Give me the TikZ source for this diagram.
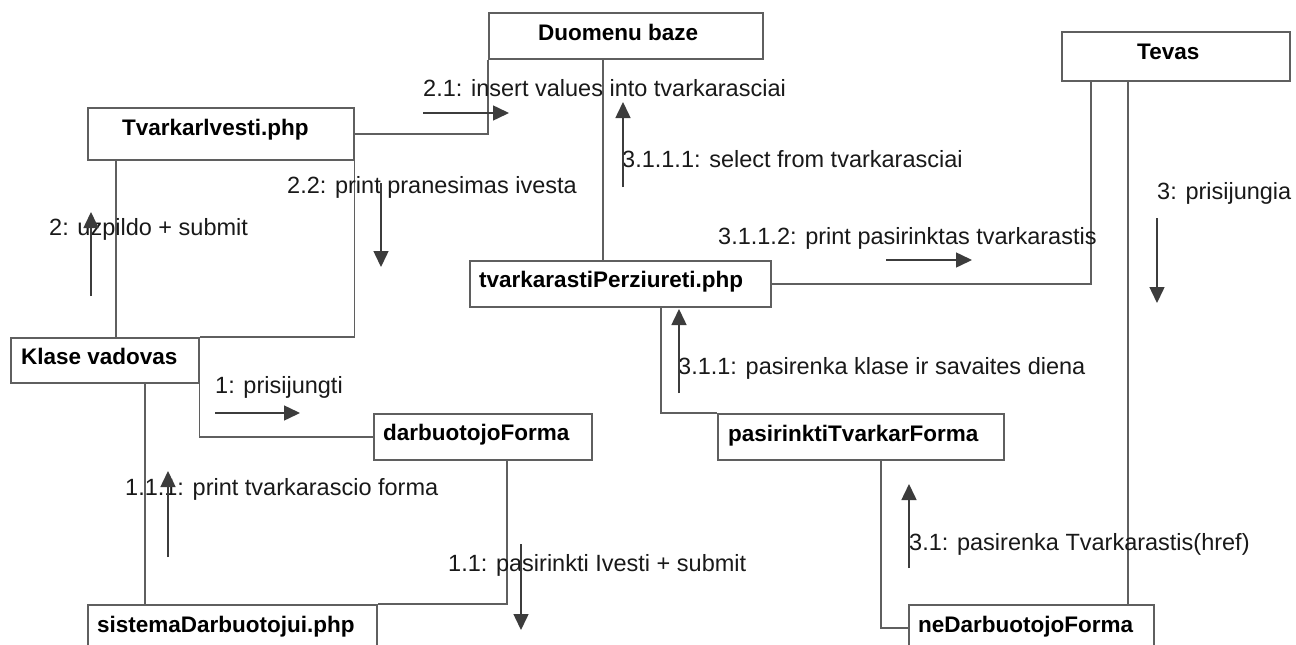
\documentclass[tikz,border=0pt]{standalone}
\usepackage{fontspec}
\setmainfont{Liberation Sans}
\usetikzlibrary{arrows.meta}
\definecolor{ln}{RGB}{95,95,95}
\definecolor{ar}{RGB}{60,60,60}
\begin{document}
\begin{tikzpicture}[x=1pt,y=-1pt,
  box/.style={draw=ln, line width=1.5pt, fill=white, rectangle, inner sep=0pt, anchor=north west},
  title/.style={font=\fontsize{22.5}{27}\selectfont\bfseries, anchor=base west, inner sep=0pt},
  msg/.style={font=\fontsize{23.5}{28}\selectfont, anchor=base west, inner sep=0pt, text=black!90},
  conn/.style={draw=ln, line width=1.5pt},
  marrow/.style={draw=ar, line width=1.5pt, -{Triangle[length=16pt,width=15pt]}}]
\useasboundingbox[fill=white] (0,0) rectangle (1296,645);
\clip (0,0) rectangle (1296,645);

% boxes
\node[box, minimum width=266pt, minimum height=52pt] (tv) at (87,107) {};
\node[box, minimum width=274pt, minimum height=46pt] (db) at (488,12) {};
\node[box, minimum width=228pt, minimum height=49pt] (tevas) at (1061,31) {};
\node[box, minimum width=301pt, minimum height=46pt] (tp) at (469,260) {};
\node[box, minimum width=188pt, minimum height=45pt] (kv) at (10,337) {};
\node[box, minimum width=218pt, minimum height=46pt] (df) at (373,413) {};
\node[box, minimum width=286pt, minimum height=46pt] (pf) at (717,413) {};
\node[box, minimum width=289pt, minimum height=46pt] (sd) at (87,604) {};
\node[box, minimum width=245pt, minimum height=46pt] (nd) at (908,604) {};

% connectors
\draw[conn] (tv.east) -| (db.south west);
\draw[conn] ([xshift=106pt]kv.north west) -- ([xshift=29pt]tv.south west);
\draw[conn] (tv.south east) |- (kv.north east);
\draw[conn] ([xshift=115pt]db.south west) -- ([xshift=134pt]tp.north west);
\draw[conn] (tp.east) -| ([xshift=30pt]tevas.south west);
\draw[conn] ([xshift=67pt]tevas.south west) -- ([xshift=220pt]nd.north west);
\draw[conn] (kv.south east) |- (df.west);
\draw[conn] ([xshift=135pt]kv.south west) -- ([xshift=58pt]sd.north west);
\draw[conn] ([xshift=134pt]df.south west) |- (sd.north east);
\draw[conn] ([xshift=192pt]tp.south west) |- (pf.north west);
\draw[conn] ([xshift=164pt]pf.south west) |- (nd.west);

% box titles
\node[title] (ttv) at (122,135) {Tvarkarlvesti.php};
\node[title] (tdb) at (538,40) {Duomenu baze};
\node[title] (ttevas) at (1137,59) {Tevas};
\node[title] (ttp) at (479,287) {tvarkarastiPerziureti.php};
\node[title] (tkv) at (21,364) {Klase vadovas};
\node[title] (tdf) at (383,440) {darbuotojoForma};
\node[title] (tpf) at (728,441) {pasirinktiTvarkarForma};
\node[title] (tsd) at (97,632) {sistemaDarbuotojui.php};
\node[title] (tnd) at (918,632) {neDarbuotojoForma};

% message labels
\node[msg] (m21) at (423,96) {2.1: insert values into tvarkarasciai};
\node[msg] (m3111) at (622,167) {3.1.1.1: select from tvarkarasciai};
\node[msg] (m22) at (287,193) {2.2: print pranesimas ivesta};
\node[msg] (m2) at (49,235) {2: uzpildo + submit};
\node[msg] (m3112) at (718,244) {3.1.1.2: print pasirinktas tvarkarastis};
\node[msg] (m3) at (1157,199) {3: prisijungia};
\node[msg] (m311) at (678,374) {3.1.1: pasirenka klase ir savaites diena};
\node[msg] (m1) at (215,393) {1: prisijungti};
\node[msg] (m111) at (125,495) {1.1.1: print tvarkarascio forma};
\node[msg] (m11) at (448,571) {1.1: pasirinkti Ivesti + submit};
\node[msg] (m31) at (909,550) {3.1: pasirenka Tvarkarastis(href)};

% message arrows
\coordinate (a21s) at (423,113); \coordinate (a21e) at (509,113);
\coordinate (a3111s) at (623,187); \coordinate (a3111e) at (623,102);
\coordinate (a22s) at (381,183); \coordinate (a22e) at (381,267);
\coordinate (a2s) at (91,296); \coordinate (a2e) at (91,212);
\coordinate (a3112s) at (886,260); \coordinate (a3112e) at (972,260);
\coordinate (a3s) at (1157,218); \coordinate (a3e) at (1157,303);
\coordinate (a311s) at (679,393); \coordinate (a311e) at (679,309);
\coordinate (a1s) at (215,413); \coordinate (a1e) at (300,413);
\coordinate (a111s) at (168,557); \coordinate (a111e) at (168,471);
\coordinate (a11s) at (521,544); \coordinate (a11e) at (521,630);
\coordinate (a31s) at (909,568); \coordinate (a31e) at (909,484);
\draw[marrow] (a21s) -- (a21e);
\draw[marrow] (a3111s) -- (a3111e);
\draw[marrow] (a22s) -- (a22e);
\draw[marrow] (a2s) -- (a2e);
\draw[marrow] (a3112s) -- (a3112e);
\draw[marrow] (a3s) -- (a3e);
\draw[marrow] (a311s) -- (a311e);
\draw[marrow] (a1s) -- (a1e);
\draw[marrow] (a111s) -- (a111e);
\draw[marrow] (a11s) -- (a11e);
\draw[marrow] (a31s) -- (a31e);
\end{tikzpicture}
\end{document}
